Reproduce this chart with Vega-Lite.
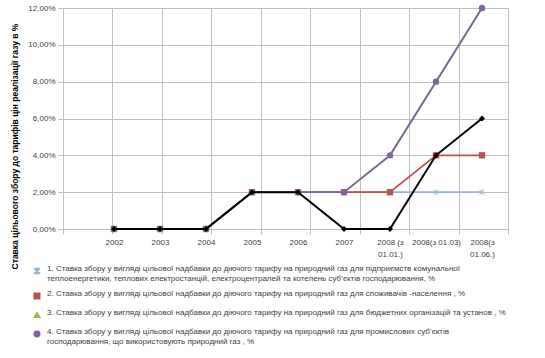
{
  "$schema": "https://vega.github.io/schema/vega-lite/v6.json",
  "width": 445,
  "height": 221,
  "autosize": {"type": "none"},
  "padding": {"left": 63, "top": 8, "right": 37, "bottom": 129},
  "background": "white",
  "config": {
    "view": {"stroke": "#bfbfbf", "strokeWidth": 1},
    "font": "Liberation Sans",
    "axis": {"labelFont": "Liberation Sans", "labelColor": "#404040", "labelFontSize": 8, "gridColor": "#bfbfbf", "domainColor": "#bfbfbf", "tickColor": "#bfbfbf"},
    "legend": {"labelFont": "Liberation Sans"}
  },
  "data": {
    "values": [
      {"period": "2002", "series": "1", "value": 0},
      {"period": "2003", "series": "1", "value": 0},
      {"period": "2004", "series": "1", "value": 0},
      {"period": "2005", "series": "1", "value": 0.02},
      {"period": "2006", "series": "1", "value": 0.02},
      {"period": "2007", "series": "1", "value": 0.02},
      {"period": "2008 (з 01.01.)", "series": "1", "value": 0.02},
      {"period": "2008(з 01.03)", "series": "1", "value": 0.02},
      {"period": "2008(з 01.06.)", "series": "1", "value": 0.02},
      {"period": "2002", "series": "2", "value": 0},
      {"period": "2003", "series": "2", "value": 0},
      {"period": "2004", "series": "2", "value": 0},
      {"period": "2005", "series": "2", "value": 0.02},
      {"period": "2006", "series": "2", "value": 0.02},
      {"period": "2007", "series": "2", "value": 0.02},
      {"period": "2008 (з 01.01.)", "series": "2", "value": 0.02},
      {"period": "2008(з 01.03)", "series": "2", "value": 0.04},
      {"period": "2008(з 01.06.)", "series": "2", "value": 0.04},
      {"period": "2002", "series": "3", "value": 0},
      {"period": "2003", "series": "3", "value": 0},
      {"period": "2004", "series": "3", "value": 0},
      {"period": "2005", "series": "3", "value": 0.02},
      {"period": "2006", "series": "3", "value": 0.02},
      {"period": "2007", "series": "3", "value": 0.02},
      {"period": "2008 (з 01.01.)", "series": "3", "value": 0.04},
      {"period": "2008(з 01.03)", "series": "3", "value": 0.08},
      {"period": "2008(з 01.06.)", "series": "3", "value": 0.12},
      {"period": "2002", "series": "4", "value": 0},
      {"period": "2003", "series": "4", "value": 0},
      {"period": "2004", "series": "4", "value": 0},
      {"period": "2005", "series": "4", "value": 0.02},
      {"period": "2006", "series": "4", "value": 0.02},
      {"period": "2007", "series": "4", "value": 0.02},
      {"period": "2008 (з 01.01.)", "series": "4", "value": 0.04},
      {"period": "2008(з 01.03)", "series": "4", "value": 0.08},
      {"period": "2008(з 01.06.)", "series": "4", "value": 0.12},
      {"period": "2002", "series": "0", "value": 0},
      {"period": "2003", "series": "0", "value": 0},
      {"period": "2004", "series": "0", "value": 0},
      {"period": "2005", "series": "0", "value": 0.02},
      {"period": "2006", "series": "0", "value": 0.02},
      {"period": "2007", "series": "0", "value": 0},
      {"period": "2008 (з 01.01.)", "series": "0", "value": 0},
      {"period": "2008(з 01.03)", "series": "0", "value": 0.04},
      {"period": "2008(з 01.06.)", "series": "0", "value": 0.06}
    ]
  },
  "resolve": {"scale": {"x": "independent"}},
  "layer": [
    {
      "mark": {"type": "point", "opacity": 0},
      "encoding": {
        "x": {"field": "period", "type": "ordinal", "sort": null,
              "scale": {"type": "band", "paddingInner": 0, "paddingOuter": 0},
              "axis": {"orient": "bottom", "labels": false, "title": null, "grid": true, "tickBand": "extent", "ticks": true, "tickSize": 5, "domain": true}},
        "y": {"field": "value", "type": "quantitative",
              "scale": {"domain": [0, 0.12], "nice": false},
              "axis": {"values": [0, 0.02, 0.04, 0.06, 0.08, 0.1, 0.12], "grid": true, "tickSize": 5, "labelPadding": 3, "labelOverlap": false,
                       "labelExpr": "replace(format(datum.value, '.2%'), '.', ',')",
                       "title": "Ставка цільового збору до тарифів цін реалізації газу в %",
                       "titleFont": "Liberation Sans", "titleFontSize": 8.5, "titleFontWeight": "bold", "titleColor": "#000000", "titlePadding": 8, "titleY": 138}}
      }
    },
    {
      "encoding": {
        "x": {"field": "period", "type": "ordinal", "sort": null,
              "scale": {"type": "point", "range": [28, 442]},
              "axis": {"orient": "bottom", "title": null, "grid": false, "ticks": false, "domain": false, "labelAngle": 0, "labelPadding": 9, "labelLineHeight": 12,
                       "labelExpr": "datum.label == '2008 (з 01.01.)' ? ['2008 (з', '01.01.)'] : datum.label == '2008(з 01.06.)' ? ['2008(з', '01.06.)'] : datum.label"}},
        "y": {"field": "value", "type": "quantitative",
              "axis": {"values": [0, 0.02, 0.04, 0.06, 0.08, 0.1, 0.12], "grid": true, "tickSize": 5, "labelPadding": 3, "labelOverlap": false,
                       "labelExpr": "replace(format(datum.value, '.2%'), '.', ',')",
                       "title": "Ставка цільового збору до тарифів цін реалізації газу в %",
                       "titleFont": "Liberation Sans", "titleFontSize": 8.5, "titleFontWeight": "bold", "titleColor": "#000000", "titlePadding": 8, "titleY": 138}}
      },
      "layer": [
        {
          "transform": [{"filter": "datum.series != '0'"}],
          "mark": {"type": "line", "strokeWidth": 1.8},
          "encoding": {
            "color": {"field": "series", "type": "nominal",
                      "scale": {"domain": ["1", "2", "3", "4"], "range": ["#95b3d7", "#c0504d", "#9bbb59", "#8064a2"]}}
          }
        },
        {
          "transform": [{"filter": "datum.series != '0'"}],
          "mark": {"type": "point", "filled": true, "opacity": 1, "size": 40},
          "encoding": {
            "color": {"field": "series", "type": "nominal",
                      "scale": {"domain": ["1", "2", "3", "4"], "range": ["#95b3d7", "#c0504d", "#9bbb59", "#8064a2"]},
                      "legend": {"orient": "none", "legendX": -30, "legendY": 259, "title": null, "labelFontSize": 8, "labelColor": "#404040",
                                 "labelLimit": 500, "symbolSize": 30, "rowPadding": 7, "labelBaseline": "alphabetic", "labelLineHeight": 11, "labelOffset": 6,
                                 "labelExpr": "datum.label == '1' ? ['1. Ставка збору у вигляді цільової надбавки до діючого тарифу на природний газ для підприємств комунальної', 'теплоенергетики, теплових електростанцій, електроцентралей та котелень суб’єктів господарювання, %'] : datum.label == '2' ? '2. Ставка збору у вигляді цільової надбавки до діючого тарифу на природний газ для споживачів -населення , %' : datum.label == '3' ? '3. Ставка збору у вигляді цільової надбавки до діючого тарифу на природний газ для бюджетних організацій та установ  , %' : ['4. Ставка збору у вигляді цільової надбавки до діючого тарифу на природний газ для промислових суб’єктів', 'господарювання, що використовують природний газ , %']"}},
            "shape": {"field": "series", "type": "nominal",
                      "scale": {"domain": ["1", "2", "3", "4"], "range": ["M-0.9,-0.75L-0.75,-0.9L0.9,0.75L0.75,0.9ZM0.75,-0.9L0.9,-0.75L-0.75,0.9L-0.9,0.75ZM-0.1,-1L0.1,-1L0.1,1L-0.1,1Z", "square", "triangle-up", "circle"]}}
          }
        },
        {
          "transform": [{"filter": "datum.series == '0'"}],
          "mark": {"type": "line", "color": "#000000", "strokeWidth": 2},
          "encoding": {}
        },
        {
          "transform": [{"filter": "datum.series == '0'"}],
          "mark": {"type": "point", "shape": "diamond", "filled": true, "color": "#000000", "opacity": 1, "size": 35},
          "encoding": {}
        }
      ]
    }
  ]
}
